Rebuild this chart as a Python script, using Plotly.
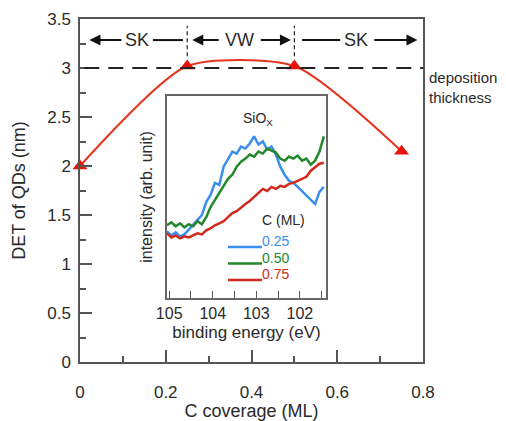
import plotly.graph_objects as go

# Main chart data
coverage = [0.0, 0.25, 0.5, 0.75]
det = [2.0, 3.02, 3.02, 2.15]
deposition = 3.0

# Inset data (binding energy, eV)
energy = [105.05, 104.95, 104.85, 104.75, 104.65, 104.55, 104.45, 104.35, 104.25, 104.15,
          104.05, 103.95, 103.85, 103.75, 103.65, 103.55, 103.45, 103.35, 103.25, 103.15,
          103.05, 102.95, 102.85, 102.75, 102.65, 102.55, 102.45, 102.35, 102.25, 102.15,
          102.05, 101.95, 101.85, 101.75, 101.65, 101.55, 101.45]
int_025 = [0.66, 0.62, 0.65, 0.61, 0.63, 0.68, 0.72, 0.78, 0.82, 0.95,
           1.02, 1.14, 1.12, 1.30, 1.38, 1.45, 1.43, 1.50, 1.48, 1.53,
           1.60, 1.52, 1.55, 1.47, 1.50, 1.42, 1.30, 1.22, 1.16, 1.14,
           1.10, 1.06, 1.02, 0.98, 0.93, 1.05, 1.10]
int_050 = [0.72, 0.75, 0.71, 0.74, 0.70, 0.73, 0.71, 0.76, 0.73, 0.80,
           0.90, 0.97, 1.05, 1.12, 1.18, 1.22, 1.30, 1.35, 1.38, 1.42,
           1.40, 1.45, 1.43, 1.48, 1.46, 1.44, 1.38, 1.36, 1.40, 1.38,
           1.41, 1.36, 1.38, 1.32, 1.36, 1.45, 1.60]
int_075 = [0.64, 0.60, 0.62, 0.59, 0.61, 0.60, 0.62, 0.64, 0.63, 0.67,
           0.69, 0.72, 0.74, 0.76, 0.80, 0.84, 0.86, 0.90, 0.93, 0.96,
           1.00, 1.03, 1.08, 1.06, 1.10, 1.08, 1.11, 1.10, 1.13, 1.14,
           1.16, 1.18, 1.20, 1.26, 1.30, 1.33, 1.34]
series_names = ["0.25", "0.50", "0.75"]
series_colors = ["#3a8ef0", "#22882a", "#d02a1c"]

FONT = "Liberation Sans, Arial, sans-serif"
TXT = "#2a2a2a"
AX = "#555555"

fig = go.Figure()

fig.add_trace(go.Scatter(
    x=coverage, y=det, mode="lines+markers",
    line=dict(color="#e8341f", width=2, shape="spline", smoothing=0.65),
    marker=dict(symbol="triangle-up", size=13, color="#e8120e"),
    cliponaxis=False, showlegend=False, xaxis="x", yaxis="y"))

for ys, nm, col in zip([int_025, int_050, int_075], series_names, series_colors):
    fig.add_trace(go.Scatter(
        x=energy, y=ys, mode="lines", name=nm,
        line=dict(color=col, width=2.5), showlegend=False,
        xaxis="x2", yaxis="y2"))

# deposition thickness dashed line
fig.add_shape(type="line", xref="x", yref="y", x0=0.01, x1=0.8, y0=deposition, y1=deposition,
              line=dict(color="#222222", width=2, dash="15px,9px"))

# vertical boundary dashed lines
for xb in [0.25, 0.5]:
    fig.add_shape(type="line", xref="x", yref="y", x0=xb, x1=xb, y0=3.12, y1=3.43,
                  line=dict(color="#222222", width=1.2, dash="4px,3px"))

yr = 3.285
# plain connecting segments
for x0, x1 in [(0.17, 0.240), (0.518, 0.607)]:
    fig.add_shape(type="line", xref="x", yref="y", x0=x0, x1=x1, y0=yr, y1=yr,
                  line=dict(color="#111111", width=2))

# arrows (tail -> tip)
for tail, tip in [(0.10, 0.022), (0.327, 0.262), (0.418, 0.492), (0.683, 0.787)]:
    fig.add_annotation(x=tip, y=yr, ax=tail, ay=yr, xref="x", yref="y", axref="x", ayref="y",
                       text="", showarrow=True, arrowhead=2, arrowsize=1.1, arrowwidth=2,
                       arrowcolor="#111111")

for xt, t in [(0.133, "SK"), (0.372, "VW"), (0.643, "SK")]:
    fig.add_annotation(x=xt, y=yr, xref="x", yref="y", text=t, showarrow=False,
                       font=dict(family=FONT, size=18, color=TXT))

fig.add_annotation(x=1.013, y=(362 - 67) / 343, xref="paper", yref="paper",
                   text="deposition<br>thickness", showarrow=False, xanchor="left", align="left",
                   font=dict(family=FONT, size=15, color=TXT))

# inset title
fig.add_annotation(x=(258 - 80) / 343, y=(362 - 108) / 343, xref="paper", yref="paper",
                   text="SiO<sub>X</sub>", showarrow=False,
                   font=dict(family=FONT, size=14, color=TXT))

# inset legend
fig.add_annotation(x=(283 - 80) / 343, y=(362 - 220) / 343, xref="paper", yref="paper",
                   text="C (ML)", showarrow=False, font=dict(family=FONT, size=14, color=TXT))
for i, (nm, col) in enumerate(zip(series_names, series_colors)):
    ly = 247 + 16.5 * i
    fig.add_shape(type="line", xref="paper", yref="paper",
                  x0=(228 - 80) / 343, x1=(262 - 80) / 343,
                  y0=(362 - ly) / 343, y1=(362 - ly) / 343,
                  line=dict(color=col, width=2.5))
    fig.add_annotation(x=(261 - 80) / 343, y=(362 - ly - 3) / 343, xref="paper", yref="paper",
                       text=nm, showarrow=False, xanchor="left", yanchor="bottom", borderpad=0,
                       font=dict(family=FONT, size=14, color=col))

fig.update_layout(
    width=506, height=421,
    margin=dict(l=80, r=83, t=19, b=59),
    paper_bgcolor="white", plot_bgcolor="white",
    font=dict(family=FONT, color=TXT),
    xaxis=dict(range=[0, 0.8], dtick=0.2, ticks="inside", ticklen=12, tickwidth=1.5,
               tickcolor=AX, showline=True, linecolor=AX, linewidth=1.5, mirror=True,
               showgrid=False, zeroline=False, ticklabelstandoff=14, automargin=False,
               tickfont=dict(size=17, color=TXT),
               minor=dict(dtick=0.1, ticks="inside", ticklen=6, tickcolor=AX, tickwidth=1.5),
               title=dict(text="C coverage (ML)", font=dict(size=18, color=TXT), standoff=2)),
    yaxis=dict(range=[0, 3.5], dtick=0.5, ticks="inside", ticklen=12, tickwidth=1.5,
               tickcolor=AX, showline=True, linecolor=AX, linewidth=1.5, mirror=True,
               showgrid=False, zeroline=False, ticklabelstandoff=4, automargin=False,
               tickfont=dict(size=17, color=TXT),
               minor=dict(dtick=0.25, ticks="inside", ticklen=6, tickcolor=AX, tickwidth=1.5),
               title=dict(text="DET of QDs (nm)", font=dict(size=18, color=TXT), standoff=17)),
    xaxis2=dict(domain=[(167 - 80) / 343, (326 - 80) / 343], anchor="y2", automargin=False,
                range=[105.05, 101.4], dtick=1, ticks="inside", ticklen=7, tickwidth=1.2,
                tickcolor=AX, showline=True, linecolor="#666666", linewidth=1.5, mirror=True,
                showgrid=False, zeroline=False, tickfont=dict(size=16, color=TXT),
                minor=dict(dtick=0.5, ticks="inside", ticklen=7, tickcolor=AX, tickwidth=1.2),
                title=dict(text="binding energy (eV)", font=dict(size=17, color=TXT), standoff=5)),
    yaxis2=dict(domain=[(362 - 298) / 343, (362 - 96) / 343], anchor="x2", automargin=False,
                range=[0, 2.0], showticklabels=False, ticks="",
                showline=True, linecolor="#666666", linewidth=1.5, mirror=True,
                showgrid=False, zeroline=False,
                title=dict(text="intensity (arb. unit)", font=dict(size=16, color=TXT), standoff=9)),
)

fig.write_html("out.html", config={"displayModeBar": False},
               post_script="document.body.style.margin='0';")
